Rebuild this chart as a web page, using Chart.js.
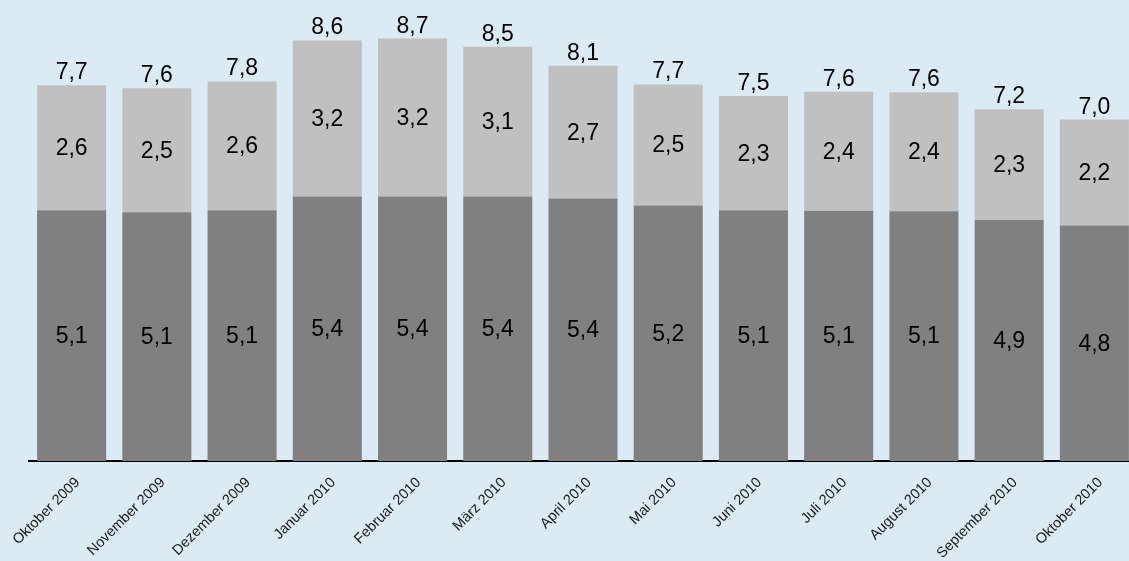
<!DOCTYPE html>
<html>
<head>
<meta charset="utf-8">
<script src="https://cdn.jsdelivr.net/npm/chart.js@4.4.0/dist/chart.umd.min.js"></script>
<style>
  html, body { margin: 0; padding: 0; background: #dbeaf3; overflow: hidden; }
  #wrap { position: relative; width: 1137px; height: 561px; }
</style>
</head>
<body>
<div id="wrap"><canvas id="chart"></canvas></div>
<script>
// months shown on the x axis
const months = [
  'Oktober 2009', 'November 2009', 'Dezember 2009', 'Januar 2010', 'Februar 2010',
  'März 2010', 'April 2010', 'Mai 2010', 'Juni 2010', 'Juli 2010',
  'August 2010', 'September 2010', 'Oktober 2010'
];
// lower (dark) segment
const baseValues = [5.14, 5.10, 5.14, 5.42, 5.42, 5.42, 5.38, 5.24, 5.14, 5.13, 5.12, 4.94, 4.83];
// upper (light) segment
const topValues = [2.56, 2.54, 2.64, 3.20, 3.24, 3.07, 2.72, 2.48, 2.34, 2.44, 2.44, 2.27, 2.17];

const fmt = v => v.toFixed(1).replace('.', ',');

// draws segment values and totals
const valueLabels = {
  id: 'valueLabels',
  afterDatasetsDraw(chart) {
    const ctx = chart.ctx;
    const lower = chart.getDatasetMeta(0).data;
    const upper = chart.getDatasetMeta(1).data;
    ctx.save();
    ctx.font = '23px "Liberation Sans", Arial, sans-serif';
    ctx.fillStyle = '#000';
    ctx.textAlign = 'center';
    months.forEach((m, i) => {
      const a = lower[i], b = upper[i];
      ctx.textBaseline = 'middle';
      ctx.fillText(fmt(baseValues[i]), a.x, (a.y + a.base) / 2 + 1);
      ctx.fillText(fmt(topValues[i]), b.x, (b.y + b.base) / 2 + 1);
      ctx.textBaseline = 'alphabetic';
      ctx.fillText(fmt(baseValues[i] + topValues[i]), b.x, b.y - 6);
    });
    ctx.restore();
  }
};

new Chart(document.getElementById('chart'), {
  type: 'bar',
  data: {
    labels: months,
    datasets: [
      { data: baseValues, backgroundColor: '#808080', barPercentage: 0.81, categoryPercentage: 1 },
      { data: topValues, backgroundColor: '#c0c0c0', barPercentage: 0.81, categoryPercentage: 1 }
    ]
  },
  options: {
    responsive: true,
    maintainAspectRatio: false,
    animation: false,
    layout: { padding: { left: 29, right: 0, top: 0, bottom: 0 } },
    plugins: { legend: { display: false }, tooltip: { enabled: false } },
    scales: {
      x: {
        stacked: true,
        grid: { display: false },
        border: { display: true, color: '#000', width: 2 },
        ticks: {
          minRotation: 45,
          maxRotation: 45,
          autoSkip: false,
          color: '#1a1a1a',
          padding: 5,
          labelOffset: 6,
          font: { family: '"Liberation Sans", Arial, sans-serif', size: 14.5 }
        },
        afterFit(scale) { scale.height = 100; }
      },
      y: {
        stacked: true,
        display: false,
        min: 0,
        max: 9.45
      }
    }
  },
  plugins: [valueLabels]
});
</script>
</body>
</html>
